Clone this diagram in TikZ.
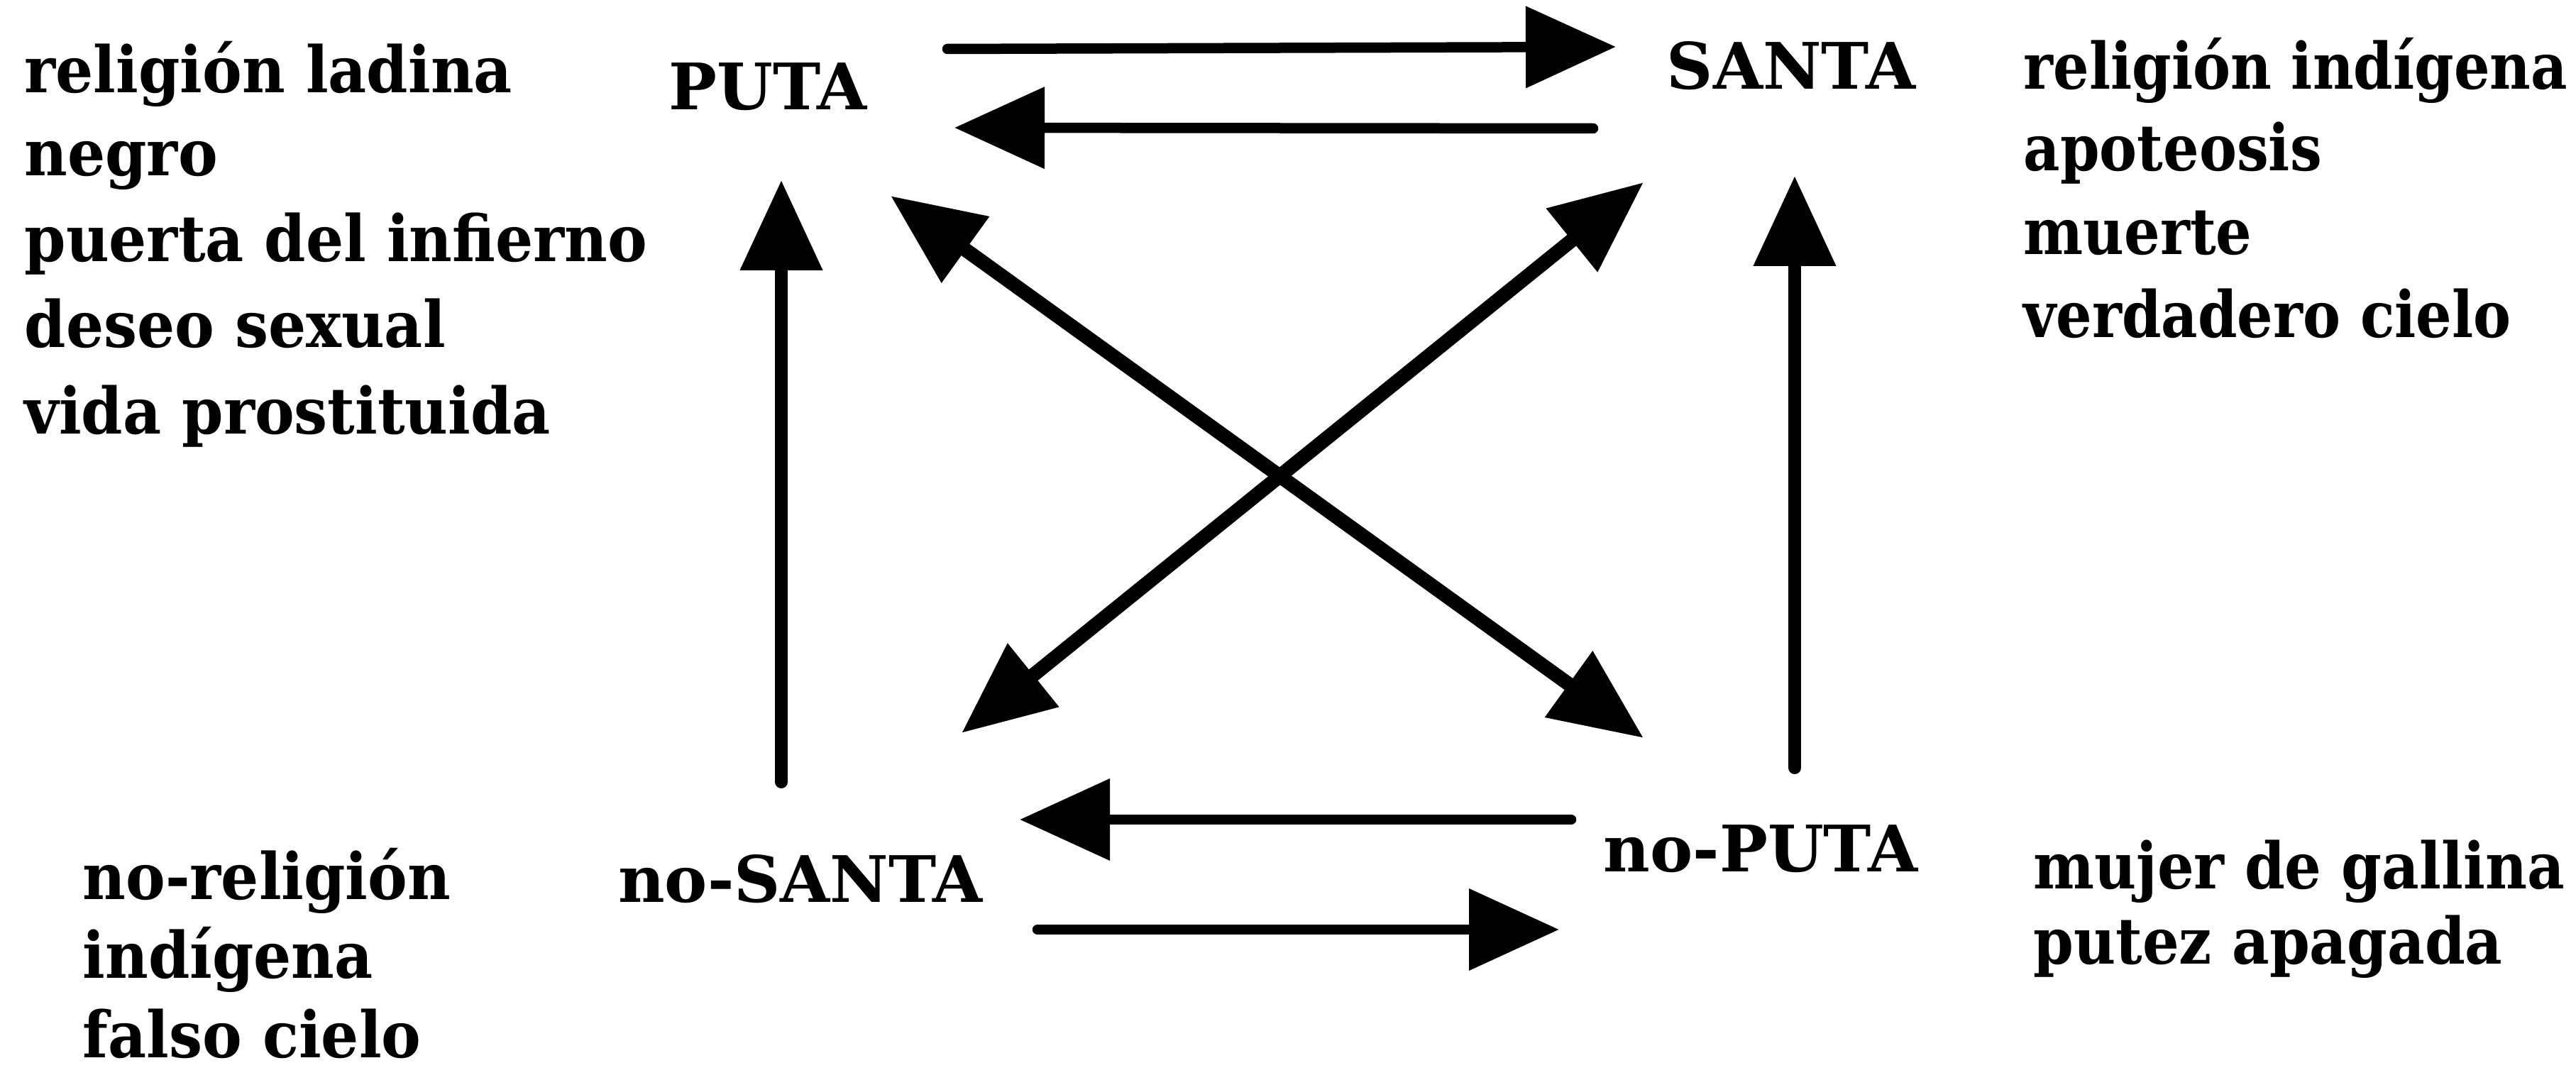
\documentclass[tikz,border=0pt]{standalone}
\usepackage{fontspec}
\setmainfont{DejaVu Serif}
\newfontfamily\termfont{DejaVu Serif}[FakeStretch=1.0]
\newfontfamily\leftfont{DejaVu Serif}[FakeStretch=0.925]
\newfontfamily\rightfont{DejaVu Serif}[FakeStretch=0.88]
\newfontfamily\lowfont{DejaVu Serif}[FakeStretch=0.9]
\usetikzlibrary{arrows.meta}
\begin{document}
\begin{tikzpicture}[
  lbl/.style={anchor=base west, inner sep=0pt},
  lf/.style={font=\leftfont\fontsize{25.7}{34}\selectfont\bfseries},
  rf/.style={font=\rightfont\fontsize{25.7}{34}\selectfont\bfseries},
  mf/.style={font=\lowfont\fontsize{25.7}{34}\selectfont\bfseries},
  term/.style={anchor=base, inner sep=0pt, font=\termfont\fontsize{25.7}{34}\selectfont\bfseries},
  tip/.style={-{Triangle[length=1.27cm, width=1.12cm]}},
  harr/.style={line width=0.145cm, line cap=round, tip},
  varr/.style={line width=0.18cm, line cap=round, tip},
  darr/.style={line width=0.2cm, line cap=round, {Triangle[length=1.3cm, width=1.1cm]}-{Triangle[length=1.3cm, width=1.1cm]}}
]
\useasboundingbox[fill=white] (0,0) rectangle (36.30,-15.22);

% corner terms
\node[term] (puta) at (10.82,-1.55) {PUTA};
\node[term] (santa) at (25.24,-1.26) {SANTA};
\node[term] (nosanta) at (11.28,-12.72) {no-SANTA};
\node[term] (noputa) at (24.81,-12.28) {no-PUTA};

% left upper block
\node[lbl,lf] (l1) at (0.34,-1.31) {religión ladina};
\node[lbl,lf] (l2) at (0.34,-2.48) {negro};
\node[lbl,lf] (l3) at (0.34,-3.69) {puerta del infierno};
\node[lbl,lf] (l4) at (0.34,-4.90) {deseo sexual};
\node[lbl,lf] (l5) at (0.34,-6.12) {vida prostituida};

% left lower block
\node[lbl,lf] (b1) at (1.16,-12.67) {no-religión};
\node[lbl,lf] (b2) at (1.16,-13.78) {indígena};
\node[lbl,lf] (b3) at (1.16,-14.90) {falso cielo};

% right upper block
\node[lbl,rf] (r1) at (28.51,-1.26) {religión indígena};
\node[lbl,rf] (r2) at (28.51,-2.41) {apoteosis};
\node[lbl,rf] (r3) at (28.51,-3.59) {muerte};
\node[lbl,rf] (r4) at (28.51,-4.76) {verdadero cielo};

% right lower block
\node[lbl,mf] (c1) at (28.65,-12.52) {mujer de gallina};
\node[lbl,mf] (c2) at (28.65,-13.58) {putez apagada};

% connector end points
\coordinate (ta1) at (13.35,-0.69);
\coordinate (ta2) at (22.77,-0.66);
\coordinate (tb1) at (22.45,-1.81);
\coordinate (tb2) at (13.45,-1.80);
\coordinate (la1) at (11.01,-11.02);
\coordinate (la2) at (11.01,-2.54);
\coordinate (ra1) at (25.29,-10.82);
\coordinate (ra2) at (25.29,-2.48);
\coordinate (d1a) at (12.55,-2.76);
\coordinate (d1b) at (23.16,-10.40);
\coordinate (d2a) at (23.16,-2.57);
\coordinate (d2b) at (13.55,-10.33);
\coordinate (ba1) at (22.14,-11.55);
\coordinate (ba2) at (14.37,-11.55);
\coordinate (bb1) at (14.62,-13.10);
\coordinate (bb2) at (21.97,-13.10);

% connectors
\draw[harr] (ta1) -- (ta2);
\draw[harr] (tb1) -- (tb2);
\draw[varr] (la1) -- (la2);
\draw[varr] (ra1) -- (ra2);
\draw[darr] (d1a) -- (d1b);
\draw[darr] (d2a) -- (d2b);
\draw[harr] (ba1) -- (ba2);
\draw[harr] (bb1) -- (bb2);
\end{tikzpicture}
\end{document}
